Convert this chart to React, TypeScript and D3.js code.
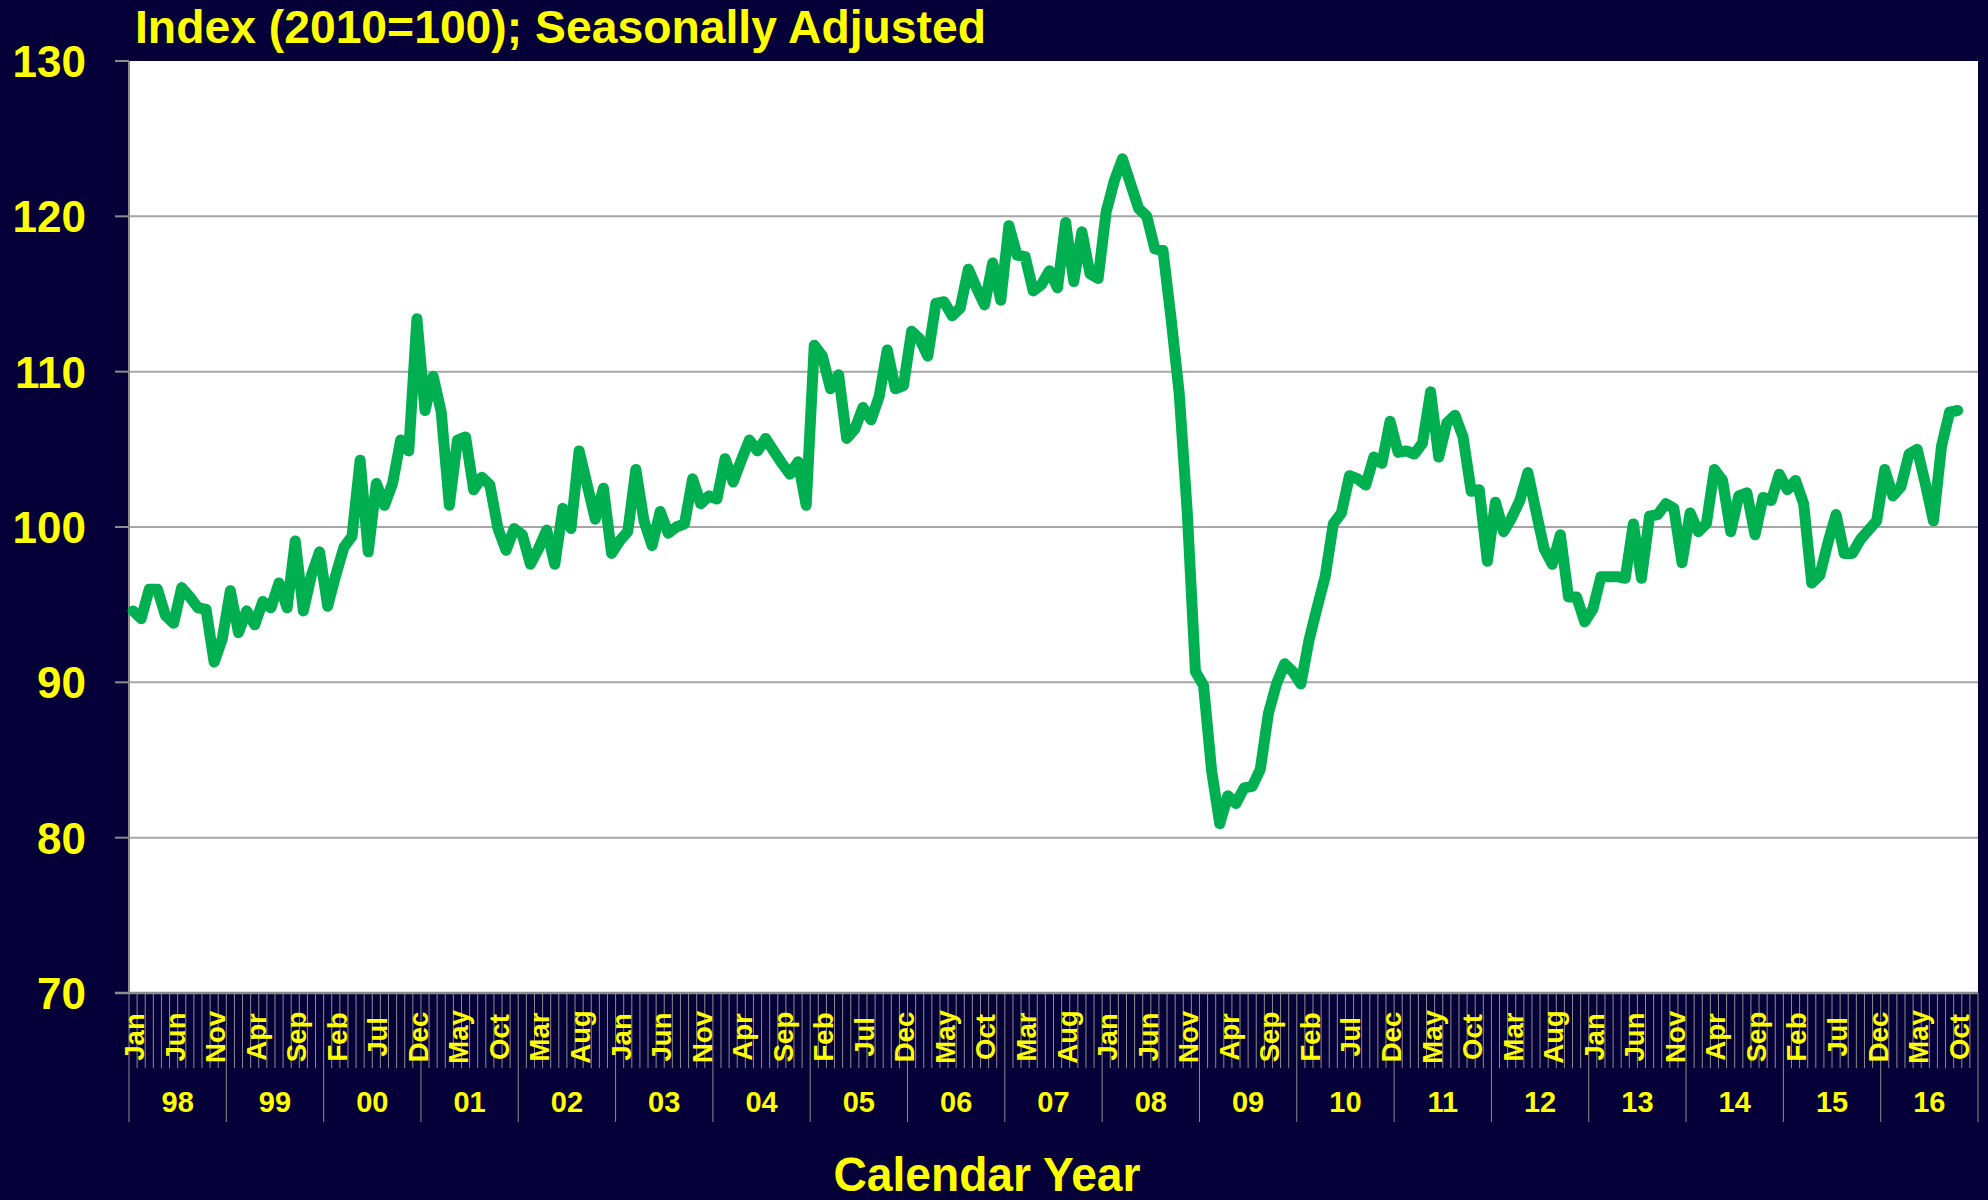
import React from "react";
import * as d3 from "d3";

const MONTHS = ["Jan","Feb","Mar","Apr","May","Jun","Jul","Aug","Sep","Oct","Nov","Dec"];
const YEARS = ["98","99","00","01","02","03","04","05","06","07","08","09","10","11","12","13","14","15","16"];
const Y_TICKS = [70, 80, 90, 100, 110, 120, 130];
const TITLE = "Index (2010=100);  Seasonally  Adjusted";
const X_TITLE = "Calendar  Year";

// Monthly index values, Jan 1998 - Oct 2016
const VALUES = [
  94.6, 94.1, 96.0, 96.0, 94.3, 93.8, 96.1, 95.5, 94.8, 94.7, 91.3, 92.8,
  95.9, 93.2, 94.6, 93.7, 95.2, 94.8, 96.4, 94.8, 99.1, 94.6, 96.9, 98.4,
  94.9, 96.9, 98.7, 99.4, 104.3, 98.4, 102.8, 101.4, 102.8, 105.6, 104.9, 113.4,
  107.5, 109.7, 107.4, 101.4, 105.6, 105.8, 102.4, 103.2, 102.7, 99.9, 98.5, 99.9,
  99.5, 97.6, 98.6, 99.8, 97.6, 101.2, 99.9, 104.9, 102.7, 100.5, 102.5, 98.3,
  99.1, 99.7, 103.7, 100.4, 98.8, 101.0, 99.6, 100.0, 100.2, 103.1, 101.5, 102.0,
  101.8, 104.4, 102.9, 104.3, 105.6, 104.9, 105.7, 104.9, 104.1, 103.4, 104.2, 101.4,
  111.7, 111.0, 108.9, 109.8, 105.7, 106.3, 107.7, 106.9, 108.4, 111.4, 108.9, 109.1,
  112.6, 112.1, 111.0, 114.4, 114.5, 113.6, 114.1, 116.6, 115.4, 114.3, 117.0, 114.6,
  119.4, 117.5, 117.4, 115.2, 115.6, 116.5, 115.4, 119.6, 115.8, 119.0, 116.3, 116.0,
  120.3, 122.3, 123.7, 122.1, 120.5, 120.0, 117.9, 117.8, 113.4, 108.6, 100.9, 90.7,
  89.8, 84.3, 80.9, 82.7, 82.2, 83.2, 83.3, 84.4, 88.0, 89.9, 91.2, 90.7,
  89.9, 92.7, 94.8, 96.8, 100.2, 100.9, 103.3, 103.1, 102.7, 104.5, 104.1, 106.8,
  104.8, 104.9, 104.7, 105.4, 108.7, 104.5, 106.7, 107.2, 105.8, 102.3, 102.4, 97.8,
  101.6, 99.7, 100.6, 101.7, 103.5, 101.0, 98.6, 97.6, 99.5, 95.5, 95.5, 93.9,
  94.7, 96.8, 96.8, 96.8, 96.7, 100.2, 96.7, 100.7, 100.8, 101.5, 101.2, 97.7,
  100.9, 99.7, 100.2, 103.7, 103.0, 99.7, 102.0, 102.2, 99.5, 101.9, 101.7, 103.4,
  102.4, 103.0, 101.5, 96.4, 96.9, 99.0, 100.8, 98.3, 98.3, 99.2, 99.8, 100.4,
  103.7, 102.0, 102.6, 104.7, 105.0, 102.8, 100.4, 105.2, 107.4, 107.5
];

const W = 1988;
const H = 1200;
const LEFT = 129;
const RIGHT = 1978;
const TOP = 61;
const BOTTOM = 993;
const BG = "#050037";
const YELLOW = "#FFFF00";
const GREEN = "#00B050";
const FONT = "'Liberation Sans', Arial, Helvetica, sans-serif";

export default function App() {
  const nCats = YEARS.length * 12;
  const cats = d3.range(nCats);
  const x = d3.scaleBand<number>().domain(cats).range([LEFT, RIGHT]).padding(0);
  const bw = x.bandwidth();
  const cx = (i: number) => (x(i) as number) + bw / 2;
  const y = d3.scaleLinear().domain([70, 130]).range([BOTTOM, TOP]);

  const line = d3
    .line<number>()
    .x((_, i) => cx(i))
    .y((v) => y(v));

  const monthLabels = cats.filter((i) => i % 5 === 0 && i < VALUES.length);

  return (
    <svg
      width={W}
      height={H}
      style={{ position: "absolute", left: 0, top: 0, display: "block" }}
      fontFamily={FONT}
    >
      <rect x={0} y={0} width={W} height={H} fill={BG} />
      <rect x={LEFT} y={TOP} width={RIGHT - LEFT} height={BOTTOM - TOP} fill="#FFFFFF" />

      {/* gridlines */}
      {Y_TICKS.filter((t) => t > 70 && t < 130).map((t) => (
        <line key={"g" + t} x1={LEFT} x2={RIGHT} y1={y(t)} y2={y(t)} stroke="#A6A6A6" strokeWidth={2} />
      ))}

      {/* y axis */}
      <line x1={LEFT} x2={LEFT} y1={TOP} y2={BOTTOM} stroke="#8C8C8C" strokeWidth={2} />
      {Y_TICKS.map((t) => (
        <g key={"yt" + t}>
          <line x1={LEFT - 14} x2={LEFT} y1={y(t)} y2={y(t)} stroke="#8C8C8C" strokeWidth={2} />
          <text
            x={86}
            y={y(t)}
            dy="0.36em"
            textAnchor="end"
            fill={YELLOW}
            fontSize={44}
            fontWeight="bold"
          >
            {t}
          </text>
        </g>
      ))}

      {/* x axis */}
      {d3.range(nCats + 1).map((k) => {
        const xx = LEFT + k * bw;
        const isYear = k % 12 === 0;
        return (
          <line
            key={"xt" + k}
            x1={xx}
            x2={xx}
            y1={BOTTOM}
            y2={isYear ? 1122 : 1068}
            stroke="#8C8C8C"
            strokeWidth={1}
          />
        );
      })}
      <line x1={LEFT - 14} x2={RIGHT} y1={BOTTOM} y2={BOTTOM} stroke="#8C8C8C" strokeWidth={2.5} />

      {monthLabels.map((i) => (
        <text
          key={"ml" + i}
          transform={`translate(${cx(i) + 1},1037) rotate(-90)`}
          textAnchor="middle"
          dy="0.36em"
          fill={YELLOW}
          fontSize={27.5}
          fontWeight="bold"
        >
          {MONTHS[i % 12]}
        </text>
      ))}

      {YEARS.map((yr, k) => (
        <text
          key={"yr" + yr}
          x={LEFT + (k * 12 + 6) * bw}
          y={1102}
          dy="0.36em"
          textAnchor="middle"
          fill={YELLOW}
          fontSize={29}
          fontWeight="bold"
        >
          {yr}
        </text>
      ))}

      {/* data line */}
      <path
        d={line(VALUES) || ""}
        fill="none"
        stroke={GREEN}
        strokeWidth={11}
        strokeLinejoin="round"
        strokeLinecap="round"
      />

      {/* titles */}
      <text x={135} y={43} fill={YELLOW} fontSize={47} fontWeight="bold" textLength={851} lengthAdjust="spacingAndGlyphs">
        {TITLE}
      </text>
      <text x={987} y={1191} textAnchor="middle" fill={YELLOW} fontSize={49} fontWeight="bold" textLength={307} lengthAdjust="spacingAndGlyphs">
        {X_TITLE}
      </text>
    </svg>
  );
}
